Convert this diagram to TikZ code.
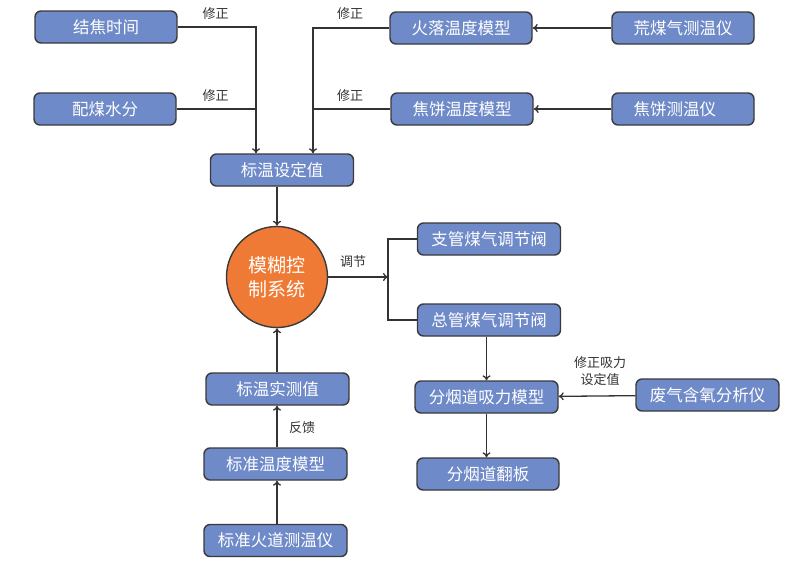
\documentclass[tikz,border=0pt]{standalone}
\usepackage{fontspec}
\setmainfont{Noto Sans CJK SC}
\usetikzlibrary{arrows.meta}
\definecolor{boxblue}{HTML}{6F8AC8}
\definecolor{boxline}{HTML}{3A3A3A}
\definecolor{linegray}{HTML}{333333}
\definecolor{labelgray}{HTML}{333333}
\definecolor{orangefill}{HTML}{EF7A35}
\begin{document}
\begin{tikzpicture}[x=1pt,y=-1pt,
  box/.style={draw=boxline, line width=1.4pt, fill=boxblue, rounded corners=6pt,
    minimum width=142pt, minimum height=32pt, text=white, inner sep=0pt,
    font=\fontsize{16.5}{18}\selectfont},
  lbl/.style={text=labelgray, font=\fontsize{13}{17}\selectfont, inner sep=0pt},
  arr/.style={-{To[length=5pt,width=8pt]}, line width=1.3pt, draw=linegray},
  ln/.style={line width=1.3pt, draw=linegray}]
\useasboundingbox[fill=white] (0,0) rectangle (800,568);

\node[box] (n1) at (106,27) {结焦时间};
\node[box] (n2) at (105,109) {配煤水分};
\node[box] (n3) at (461,28) {火落温度模型};
\node[box] (n4) at (683,28) {荒煤气测温仪};
\node[box] (n5) at (462,109) {焦饼温度模型};
\node[box] (n6) at (683,109) {焦饼测温仪\hphantom{仪}};
\node[box, minimum width=143pt] (n7) at (282,170) {标温设定值};
\node[circle, draw=boxline, line width=1.4pt, fill=orangefill, minimum size=101pt,
  inner sep=0pt, text=white, align=center, font=\fontsize{19}{24}\selectfont] (c) at (277,277) {模糊控\\制系统};
\node[box, minimum width=143pt] (n8) at (489,239) {支管煤气调节阀};
\node[box, minimum width=143pt] (n9) at (489,320) {总管煤气调节阀};
\node[box, minimum width=143pt] (n10) at (486.5,397) {分烟道吸力模型};
\node[box, minimum width=143pt] (n11) at (707.5,395) {废气含氧分析仪};
\node[box] (n12) at (488,474) {分烟道翻板};
\node[box, minimum width=143pt] (n13) at (277.5,389) {标温实测值};
\node[box, minimum width=143pt] (n14) at (275.5,464) {标准温度模型};
\node[box, minimum width=143pt] (n15) at (275.5,540.5) {标准火道测温仪};

% top-left corrections
\draw[arr] (n1.east) -| ([xshift=-26pt]n7.north) coordinate (jl);
\draw[ln] (n2.east) -- (n2.east -| jl);
\draw[arr] (n3.west) -| ([xshift=31pt]n7.north) coordinate (jr);
\draw[ln] (n5.west) -- (n5.west -| jr);
\draw[arr] (n4) -- (n3);
\draw[arr] (n6) -- (n5);
\node[lbl] (l1) at (215.5,14) {修正};
\node[lbl] (l2) at (215.5,96) {修正};
\node[lbl] (l3) at (350,14) {修正};
\node[lbl] (l4) at (350,96) {修正};

% set value to controller
\draw[arr] (n7.south -| c.north) -- (c.north);

% controller to valves
\coordinate (v) at (388,277);
\draw[arr] (c.east) -- (v);
\draw[ln] (n8.west) -| (v |- n9.west) -- (n9.west);
\node[lbl] (l5) at (353,262) {调节};

% flue
\draw[arr] (n10.north |- n9.south) -- (n10.north);
\draw[arr] (n10.south) -- (n10.south |- n12.north);
\draw[arr] (n11) -- (n10);
\node[lbl, align=center] (l6) at (600,371.5) {修正吸力\\设定值};

% feedback
\draw[arr] (n13.north -| c.south) -- (c.south);
\draw[arr] (n14.north -| c.south) -- (n13.south -| c.south);
\draw[arr] (n15.north -| c.south) -- (n14.south -| c.south);
\node[lbl] (l7) at (302,428) {反馈};
\end{tikzpicture}
\end{document}
